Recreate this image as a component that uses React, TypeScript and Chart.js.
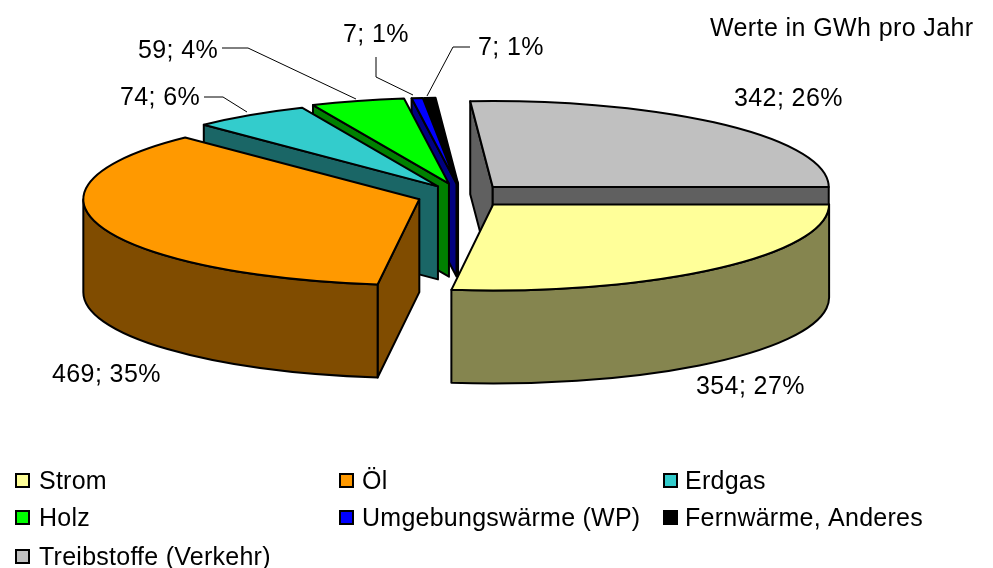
import React, { useEffect, useRef } from "react";
import { Chart, registerables } from "chart.js";

Chart.register(...registerables);

const categories = ["Strom", "Öl", "Erdgas", "Holz", "Umgebungswärme (WP)", "Fernwärme, Anderes", "Treibstoffe (Verkehr)"];
const values = [354, 469, 74, 59, 7, 7, 342];
const percents = [27, 35, 6, 4, 1, 1, 26];
const note = "Werte in GWh pro Jahr";

const topColors = ["#FFFF99", "#FF9900", "#33CCCC", "#00FF00", "#0000FF", "#000000", "#C0C0C0"];
const sideColors = ["#85854F", "#804C00", "#1A6666", "#008000", "#000080", "#000000", "#606060"];
const explode = [47, 45, 43, 48, 47, 47, 45];

const FONT = '25px "Liberation Sans", Arial, sans-serif';
const TILT = 0.256;
const DEPTH = 93;
const RADIUS = 336;

const labelPos: [number, number][] = [[696, 387], [52, 375], [120, 98], [138, 51], [343, 35], [478, 48], [734, 99]];
const leaders: ([number, number][] | null)[] = [
  null,
  null,
  [[204, 97], [223, 97], [247, 112]],
  [[222, 48], [248, 48], [356, 99]],
  [[376, 57], [376, 77], [413, 95]],
  [[470, 47], [453, 47], [427, 96]],
  null,
];
const legendPos: [number, number][] = [[15, 482], [339, 482], [663, 482], [15, 519], [339, 519], [663, 519], [15, 558]];
const legendTextX = [39, 362, 685, 39, 362, 685, 39];

const piePlugin = {
  id: "pie3d",
  beforeDatasetDraw(chart: any) {
    const ctx: CanvasRenderingContext2D = chart.ctx;
    const arcs: any[] = chart.getDatasetMeta(0).data;
    const geom = arcs.map((a, i) => {
      const mid = (a.startAngle + a.endAngle) / 2;
      return {
        a,
        s: a.startAngle,
        e: a.endAngle,
        ax: a.x + Math.cos(mid) * explode[i],
        ay: a.y + Math.sin(mid) * explode[i] * TILT,
        r: a.outerRadius,
      };
    });
    const rim = (g: any, t: number) => [g.ax + Math.cos(t) * g.r, g.ay + Math.sin(t) * g.r * TILT];

    ctx.save();
    ctx.lineWidth = 2;
    ctx.lineJoin = "round";
    ctx.strokeStyle = "#000";
    const radial = (g: any, t: number) => {
      const [x, y] = rim(g, t);
      ctx.beginPath();
      ctx.moveTo(g.ax, g.ay);
      ctx.lineTo(x, y);
      ctx.lineTo(x, y + DEPTH);
      ctx.lineTo(g.ax, g.ay + DEPTH);
      ctx.closePath();
      ctx.fill();
      ctx.stroke();
    };
    for (let i = geom.length - 1; i >= 0; i--) {
      const g = geom[i];
      ctx.fillStyle = sideColors[i];
      if (Math.cos(g.s) < 0) radial(g, g.s);
      if (Math.cos(g.e) > 0) radial(g, g.e);
      const from = Math.max(g.s, 0);
      const to = Math.min(g.e, Math.PI);
      if (to > from) {
        ctx.beginPath();
        ctx.ellipse(g.ax, g.ay, g.r, g.r * TILT, 0, from, to);
        ctx.ellipse(g.ax, g.ay + DEPTH, g.r, g.r * TILT, 0, to, from, true);
        ctx.closePath();
        ctx.fill();
        ctx.stroke();
      }
    }
    for (let i = geom.length - 1; i >= 0; i--) {
      const g = geom[i];
      ctx.save();
      ctx.translate(g.ax, g.ay);
      ctx.scale(1, TILT);
      ctx.translate(-g.a.x, -g.a.y);
      g.a.draw(ctx);
      ctx.restore();
      ctx.beginPath();
      ctx.moveTo(g.ax, g.ay);
      ctx.ellipse(g.ax, g.ay, g.r, g.r * TILT, 0, g.s, g.e);
      ctx.closePath();
      ctx.stroke();
    }
    ctx.restore();
    return false;
  },
  afterDraw(chart: any) {
    const ctx: CanvasRenderingContext2D = chart.ctx;
    ctx.save();
    ctx.font = FONT;
    (ctx as any).letterSpacing = "0.4px";
    ctx.textBaseline = "middle";
    ctx.textAlign = "left";
    ctx.fillStyle = "#000";
    ctx.strokeStyle = "#000";
    ctx.lineWidth = 1;
    ctx.fillText(note, 710, 29);
    values.forEach((v, i) => {
      ctx.fillText(`${v}; ${percents[i]}%`, labelPos[i][0], labelPos[i][1]);
      const l = leaders[i];
      if (l) {
        ctx.beginPath();
        l.forEach(([x, y], j) => (j ? ctx.lineTo(x, y) : ctx.moveTo(x, y)));
        ctx.stroke();
      }
    });
    (ctx as any).letterSpacing = "0.25px";
    ctx.lineWidth = 2;
    categories.forEach((c, i) => {
      const [x, y] = legendPos[i];
      ctx.fillStyle = topColors[i];
      ctx.fillRect(x + 1, y - 8, 13, 13);
      ctx.strokeRect(x + 1, y - 8, 13, 13);
      ctx.fillStyle = "#000";
      ctx.fillText(c, legendTextX[i], y);
    });
    ctx.restore();
  },
};

export default function App() {
  const ref = useRef<HTMLCanvasElement>(null);
  useEffect(() => {
    document.body.style.margin = "0";
    const chart = new Chart(ref.current!, {
      type: "pie",
      data: {
        labels: categories,
        datasets: [{ data: values, backgroundColor: topColors, borderWidth: 0, radius: RADIUS } as any],
      },
      options: {
        animation: false,
        responsive: false,
        rotation: 90,
        layout: { padding: { right: 69, bottom: 177 } },
        plugins: { legend: { display: false }, tooltip: { enabled: false } },
      },
      plugins: [piePlugin],
    } as any);
    return () => chart.destroy();
  }, []);
  return <canvas ref={ref} width={993} height={568} style={{ display: "block" }} />;
}
